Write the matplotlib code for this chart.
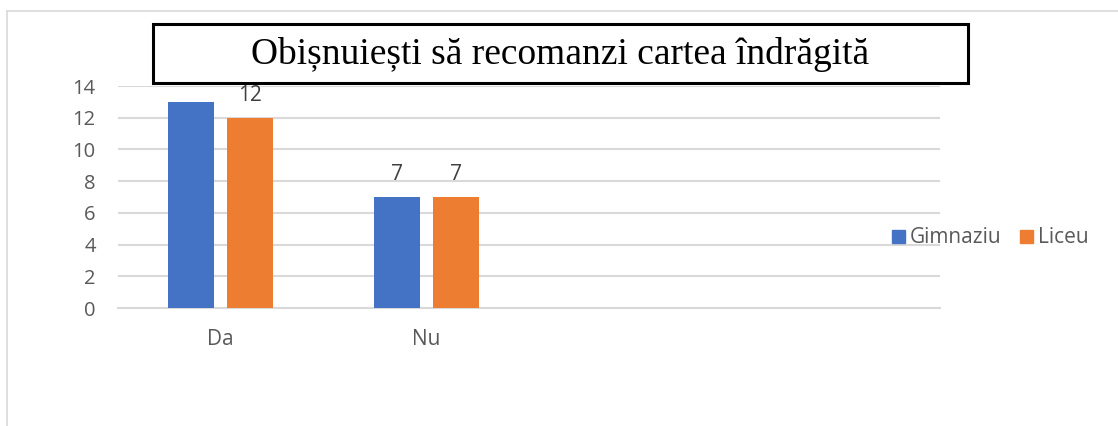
import numpy as np
import matplotlib.pyplot as plt
from matplotlib.patches import Rectangle
from matplotlib.lines import Line2D

# data
categories = ["Da", "Nu", "", ""]
gimnaziu = [13, 7, None, None]
liceu = [12, 7, None, None]
series_names = ["Gimnaziu", "Liceu"]
yticks = [0, 2, 4, 6, 8, 10, 12, 14]
title = "Obișnuiești să recomanzi cartea îndrăgită"

plt.rcParams['font.family'] = ['Open Sans', 'DejaVu Sans']
blue = "#4472c4"
orange = "#ed7d31"
grey_txt = "#595959"
grid_c = "#d9d9d9"

W, H = 1118, 426
fig = plt.figure(figsize=(W / 100, H / 100), dpi=100)
ax = fig.add_axes([118 / W, 1 - 308 / H, 822 / W, 222 / H])

x = np.arange(len(categories))
bw = 0.224
off = 0.1435
g_vals = [np.nan if v is None else v for v in gimnaziu]
l_vals = [np.nan if v is None else v for v in liceu]
ax.bar(x - off, g_vals, bw, color=blue, zorder=3)
ax.bar(x + off, l_vals, bw, color=orange, zorder=3)

for xi, v in zip(x, gimnaziu):
    if v is not None:
        ax.text(xi - off, v + 1.08, str(v), ha="center", va="baseline",
                fontsize=15, color="#404040", clip_on=False)
for xi, v in zip(x, liceu):
    if v is not None:
        ax.text(xi + off, v + 1.08, str(v), ha="center", va="baseline",
                fontsize=15, color="#404040", clip_on=False)

ax.set_xlim(-0.5, len(categories) - 0.5)
ax.set_ylim(0, 14)
ax.set_yticks(yticks)
ax.set_xticks(x)
ax.set_xticklabels(categories)
ax.tick_params(axis="both", length=0, labelcolor=grey_txt)
ax.tick_params(axis="x", pad=15, labelsize=15)
ax.tick_params(axis="y", pad=16, labelsize=14.5)
ax.yaxis.grid(True, color=grid_c, linewidth=1.5, zorder=0)
for s in ["top", "right", "left"]:
    ax.spines[s].set_visible(False)
ax.spines["bottom"].set_color(grid_c)
ax.spines["bottom"].set_linewidth(1.5)

# outer chart frame (only top and left edges visible)
fig.add_artist(Line2D([7 / W, 1], [1 - 11 / H, 1 - 11 / H], color="#d9d9d9", lw=1.2))
fig.add_artist(Line2D([7 / W, 7 / W], [0, 1 - 11 / H], color="#d9d9d9", lw=1.2))

# title box
fig.add_artist(Rectangle((153 / W, 1 - 83 / H), 815 / W, 59 / H,
                         facecolor="white", edgecolor="black", lw=2.2,
                         transform=fig.transFigure, zorder=5))
fig.text(560 / W, 1 - 55 / H, title, ha="center", va="center", fontsize=27,
         family=["Liberation Serif", "DejaVu Serif"], zorder=6)

handles = [Rectangle((0, 0), 1, 1, color=blue), Rectangle((0, 0), 1, 1, color=orange)]
fig.legend(handles, series_names, loc="center left",
           bbox_to_anchor=(892 / W, 1 - 238 / H), ncol=2, frameon=False,
           handlelength=0.6, handleheight=0.6, handletextpad=0.25,
           columnspacing=0.9, fontsize=15, labelcolor=grey_txt,
           borderpad=0, borderaxespad=0)

fig.savefig("out.png", dpi=100, facecolor="white")
